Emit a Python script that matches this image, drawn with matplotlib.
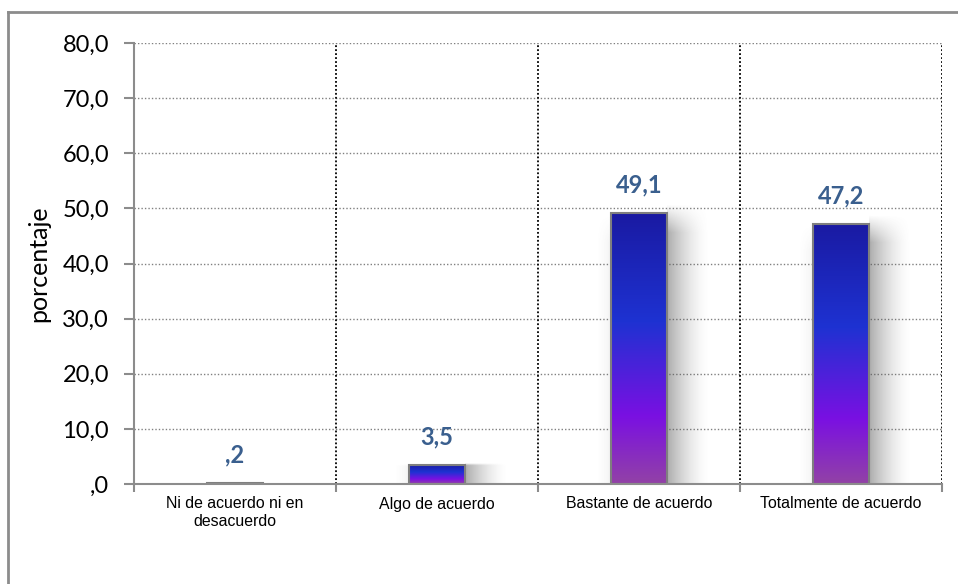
import matplotlib.pyplot as plt
import numpy as np
from matplotlib.colors import LinearSegmentedColormap
from matplotlib.patches import Rectangle
from matplotlib.lines import Line2D

categorias = ['Ni de acuerdo ni en\ndesacuerdo', 'Algo de acuerdo',
              'Bastante de acuerdo', 'Totalmente de acuerdo']
valores = [0.2, 3.5, 49.1, 47.2]
etiquetas = [',2', '3,5', '49,1', '47,2']
yticks = [0, 10, 20, 30, 40, 50, 60, 70, 80]
ytick_labels = [',0', '10,0', '20,0', '30,0', '40,0', '50,0', '60,0', '70,0', '80,0']

grad = LinearSegmentedColormap.from_list(
    'barra', [(0.0, '#9242a6'), (0.25, '#7a10e2'), (0.6, '#1e32d2'), (1.0, '#1a1aa2')])

fig = plt.figure(figsize=(9.58, 5.84), dpi=100)
ax = fig.add_axes([134/958, 1 - 484/584, (942 - 134)/958, (484 - 43)/584])

# marco exterior (solo izquierda y arriba visibles)
fig.add_artist(Line2D([8/958, 8/958], [0, 1 - 12/584], transform=fig.transFigure,
                      color='#8c8c8c', lw=2))
fig.add_artist(Line2D([8/958, 1], [1 - 12/584, 1 - 12/584], transform=fig.transFigure,
                      color='#8c8c8c', lw=2))

x = np.arange(len(valores))
ancho = 0.28

# rejilla
for yv in yticks[1:]:
    ax.axhline(yv, color='#808080', lw=1, ls=(0, (1, 1.5)), zorder=0)
for xv in np.arange(0.5, len(valores), 1.0):
    ax.axvline(xv, color='black', lw=1.3, ls=(0, (1, 1.2)), zorder=0)


# sombra suave (imagen RGBA)
def sombra(x0, x1, top, a_max, lado):
    nx, ny = 60, 60
    h = np.linspace(0, 1, nx)
    if lado == 'izq':
        h = h[::-1]
    fx = (1 - h) ** 1.6
    fy = np.ones(ny)
    k = int(ny * 0.12)
    fy[-k:] = np.linspace(1, 0, k)
    a = a_max * np.outer(fy, fx)
    rgba = np.zeros((ny, nx, 4))
    rgba[..., :3] = 0.35
    rgba[..., 3] = a
    ax.imshow(rgba, aspect='auto', origin='lower', extent=[x0, x1, 0, top],
              zorder=1, interpolation='bilinear')


img = np.linspace(0, 1, 256).reshape(-1, 1)
for xi, v, lab in zip(x, valores, etiquetas):
    x0 = xi - ancho / 2
    x1 = xi + ancho / 2
    if v > 1:
        sombra(x1, x1 + 0.21, v * 1.04, 0.5, 'der')
        sombra(x0 - 0.08, x0, v, 0.08, 'izq')
    im = ax.imshow(img, cmap=grad, aspect='auto', origin='lower',
                   extent=[x0, x1, 0, v], zorder=2)
    r = Rectangle((x0, 0), ancho, v, facecolor='none', edgecolor='#7f7f7f',
                  lw=1.5, zorder=3)
    ax.add_patch(r)
    im.set_clip_path(r)
    ax.text(xi, v + 3.0, lab, ha='center', va='bottom', fontsize=17,
            fontweight='bold', color='#3a5f8e', family='Lato')

ax.set_xlim(-0.5, len(valores) - 0.5)
ax.set_ylim(0, 80)

ax.set_yticks(yticks)
ax.set_yticklabels(ytick_labels, family='Lato', fontsize=17)
ax.set_xticks(np.arange(-0.5, len(valores), 1.0), minor=False)
ax.set_xticklabels([])
ax.set_xticks(x, minor=True)
ax.set_xticklabels(categorias, minor=True, family='Liberation Sans', fontsize=11.4)
ax.tick_params(axis='x', which='minor', length=0, pad=9)
ax.tick_params(axis='x', which='major', length=6, color='#8c8c8c', width=1.5)
ax.tick_params(axis='y', length=7, color='#8c8c8c', width=1.5, pad=11)

for s in ['top', 'right']:
    ax.spines[s].set_visible(False)
for s in ['left', 'bottom']:
    ax.spines[s].set_color('#8c8c8c')
    ax.spines[s].set_linewidth(1.5)
ax.spines['bottom'].set_zorder(4)

ax.set_ylabel('porcentaje', family='Lato', fontsize=18, labelpad=9)

fig.savefig('out.png', dpi=100)
